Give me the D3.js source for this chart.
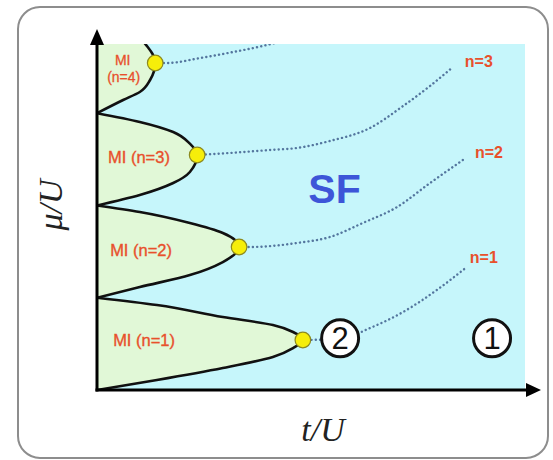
<!DOCTYPE html>
<html>
<head>
<meta charset="utf-8">
<script src="https://cdn.jsdelivr.net/npm/d3@7"></script>
<style>
  html, body { margin: 0; padding: 0; background: #fff; }
  svg { display: block; }
</style>
</head>
<body>
<svg id="chart" width="553" height="460"></svg>
<script>
// Mott-insulator lobes of the Bose-Hubbard model: boundary points (t/U, mu/U),
// each lobe listed from its lower edge on the mu axis, round the tip, to its upper edge.
const lobe1 = [[0, 0], [0.140, 0.108], [0.294, 0.238], [0.411, 0.358], [0.458, 0.455], [0.481, 0.542],
               [0.458, 0.629], [0.411, 0.704], [0.294, 0.791], [0.140, 0.921], [0, 1.0]];
const lobe2 = [[0, 1.0], [0.100, 1.116], [0.217, 1.246], [0.294, 1.387], [0.332, 1.550],
               [0.294, 1.702], [0.217, 1.810], [0.100, 1.929], [0, 2.0]];
const lobe3 = [[0, 2.0], [0.100, 2.113], [0.178, 2.243], [0.217, 2.363], [0.234, 2.547],
               [0.217, 2.670], [0.178, 2.796], [0.100, 2.905], [0, 3.0]];
const lobe4 = [[0, 3.0], [0.061, 3.143], [0.100, 3.230], [0.124, 3.360], [0.136, 3.544],
               [0.130, 3.640], [0.118, 3.720], [0.100, 3.820]];
const lobes = [lobe1, lobe2, lobe3, lobe4];
const lobeNames = ["MI (n=1)", "MI (n=2)", "MI (n=3)", "MI (n=4)"];
// Critical points (lobe tips)
const tips = [[0.481, 0.542], [0.332, 1.550], [0.234, 2.547], [0.136, 3.544]];

// Constant-density contours running out of each tip into the superfluid
const densityLines = [
  [[0.481, 0.542], [0.568, 0.553], [0.638, 0.672], [0.715, 0.845], [0.794, 1.084], [0.864, 1.333]],
  [[0.334, 1.550], [0.357, 1.550], [0.467, 1.593], [0.544, 1.658], [0.621, 1.810], [0.701, 1.983], [0.778, 2.243], [0.855, 2.493]],
  [[0.234, 2.547], [0.311, 2.569], [0.404, 2.601], [0.467, 2.623], [0.544, 2.699], [0.638, 2.840], [0.715, 3.078], [0.778, 3.295], [0.829, 3.490]],
  [[0.136, 3.544], [0.164, 3.544], [0.241, 3.598], [0.318, 3.663], [0.376, 3.717], [0.416, 3.761]]
];
const densityLabels = ["n=1", "n=2", "n=3", null];

// Marked points on the diagram
const markers = [{ label: "2", t: 0.568, mu: 0.56 }, { label: "1", t: 0.923, mu: 0.56 }];

const svg = d3.select("#chart");
const x = d3.scaleLinear().domain([0, 1]).range([97, 525]);
const y = d3.scaleLinear().domain([0, 3.75]).range([390, 44]);

const sans = "'Liberation Sans', Arial, Helvetica, sans-serif";
const red = "#e8502c";

// Card
svg.append("rect")
  .attr("x", 18).attr("y", 7).attr("width", 530).attr("height", 451)
  .attr("rx", 22).attr("fill", "#fff")
  .attr("stroke", "#8d8d8d").attr("stroke-width", 2);

// Plot area
const [x0, x1] = x.range();
const [yb, yt] = y.range();
svg.append("defs").append("clipPath").attr("id", "plotClip")
  .append("rect").attr("x", x0).attr("y", yt).attr("width", x1 - x0).attr("height", yb - yt);

svg.append("rect")
  .attr("x", x0).attr("y", yt).attr("width", x1 - x0).attr("height", yb - yt)
  .attr("fill", "#c6f6fb");

const plot = svg.append("g").attr("clip-path", "url(#plotClip)");

// Boundaries are single-valued in mu, so interpolate monotonically along mu
const boundary = d3.line().x(d => x(d[0])).y(d => y(d[1])).curve(d3.curveMonotoneY);
const contour = d3.line().x(d => x(d[0])).y(d => y(d[1])).curve(d3.curveMonotoneX);

// Lobe fills and outlines
lobes.forEach(pts => {
  const last = pts[pts.length - 1];
  const fillPath = boundary(pts) + "L" + x(0) + "," + y(last[1]) + "Z";
  plot.append("path").attr("d", fillPath).attr("fill", "#e1f8d7");
});
lobes.forEach(pts => {
  plot.append("path").attr("d", boundary(pts))
    .attr("fill", "none").attr("stroke", "#111").attr("stroke-width", 2.6);
});

// Density contours (dotted)
densityLines.forEach(pts => {
  plot.append("path").attr("d", contour(pts))
    .attr("fill", "none").attr("stroke", "#54769e")
    .attr("stroke-width", 2.4).attr("stroke-linecap", "round")
    .attr("stroke-dasharray", "0.1 4.2");
});

// Density labels beyond the end of each contour
const densityLabelOffset = [[3, -4], [12, -2], [13, -1]];
densityLabels.forEach((lab, i) => {
  if (!lab) return;
  const end = densityLines[i][densityLines[i].length - 1];
  svg.append("text")
    .attr("x", x(end[0]) + densityLabelOffset[i][0]).attr("y", y(end[1]) + densityLabelOffset[i][1])
    .attr("font-family", sans).attr("font-size", 16).attr("font-weight", "bold")
    .attr("fill", red).text(lab);
});

// Critical points
plot.selectAll("circle.tip").data(tips).join("circle")
  .attr("class", "tip")
  .attr("cx", d => x(d[0])).attr("cy", d => y(d[1])).attr("r", 7.8)
  .attr("fill", "#f6ee0a").attr("stroke", "#8d8a1e").attr("stroke-width", 1.2);

// Lobe labels
const lobeLabelPos = [[0.110, 0.54], [0.103, 1.52], [0.098, 2.52]];
lobeLabelPos.forEach((p, i) => {
  svg.append("text")
    .attr("x", x(p[0])).attr("y", y(p[1]) + 6)
    .attr("text-anchor", "middle")
    .attr("font-family", sans).attr("font-size", 16.5)
    .attr("fill", red).attr("stroke", red).attr("stroke-width", 0.35)
    .text(lobeNames[i]);
});
{
  const parts = lobeNames[3].split(" ");
  const tx = x(0.060);
  [[parts[0], 3.58, 0], [parts[1], 3.39, 1]].forEach(([txt, mu, dx]) => {
    svg.append("text").attr("x", tx + dx).attr("y", y(mu) + 5)
      .attr("text-anchor", "middle").attr("font-family", sans).attr("font-size", 14)
      .attr("fill", red).attr("stroke", red).attr("stroke-width", 0.3).text(txt);
  });
}

// Superfluid label
svg.append("text")
  .attr("x", x(0.555)).attr("y", 203)
  .attr("text-anchor", "middle")
  .attr("font-family", sans).attr("font-size", 41).attr("font-weight", "bold")
  .attr("fill", "#3d55d8").text("SF");

// Circled markers
const mk = svg.selectAll("g.marker").data(markers).join("g")
  .attr("class", "marker")
  .attr("transform", d => `translate(${x(d.t)},${y(d.mu)})`);
mk.append("circle").attr("r", 18.5)
  .attr("fill", "#fff").attr("stroke", "#111").attr("stroke-width", 3);
mk.append("text").attr("y", 11).attr("text-anchor", "middle")
  .attr("font-family", sans).attr("font-size", 31)
  .attr("fill", "#111").text(d => d.label);

// Axes with arrowheads
svg.append("line").attr("x1", x0).attr("y1", yb + 1.5).attr("x2", x0).attr("y2", 42)
  .attr("stroke", "#000").attr("stroke-width", 3);
svg.append("path").attr("d", `M${x0},29 L${x0 - 7},45 L${x0 + 7},45 Z`).attr("fill", "#000");
svg.append("line").attr("x1", x0 - 1.5).attr("y1", yb).attr("x2", 530).attr("y2", yb)
  .attr("stroke", "#000").attr("stroke-width", 3);
svg.append("path").attr("d", `M541,${yb} L526,${yb - 7} L526,${yb + 7} Z`).attr("fill", "#000");

// Axis titles
const serif = "'Liberation Serif', 'Times New Roman', serif";
svg.append("text")
  .attr("transform", "translate(62,205) rotate(-90)")
  .attr("text-anchor", "middle")
  .attr("font-family", serif).attr("font-style", "italic").attr("font-size", 34)
  .attr("fill", "#222").text("μ/U");
svg.append("text")
  .attr("x", 323).attr("y", 441)
  .attr("text-anchor", "middle")
  .attr("font-family", serif).attr("font-style", "italic").attr("font-size", 34)
  .attr("fill", "#222").text("t/U");
</script>
</body>
</html>
